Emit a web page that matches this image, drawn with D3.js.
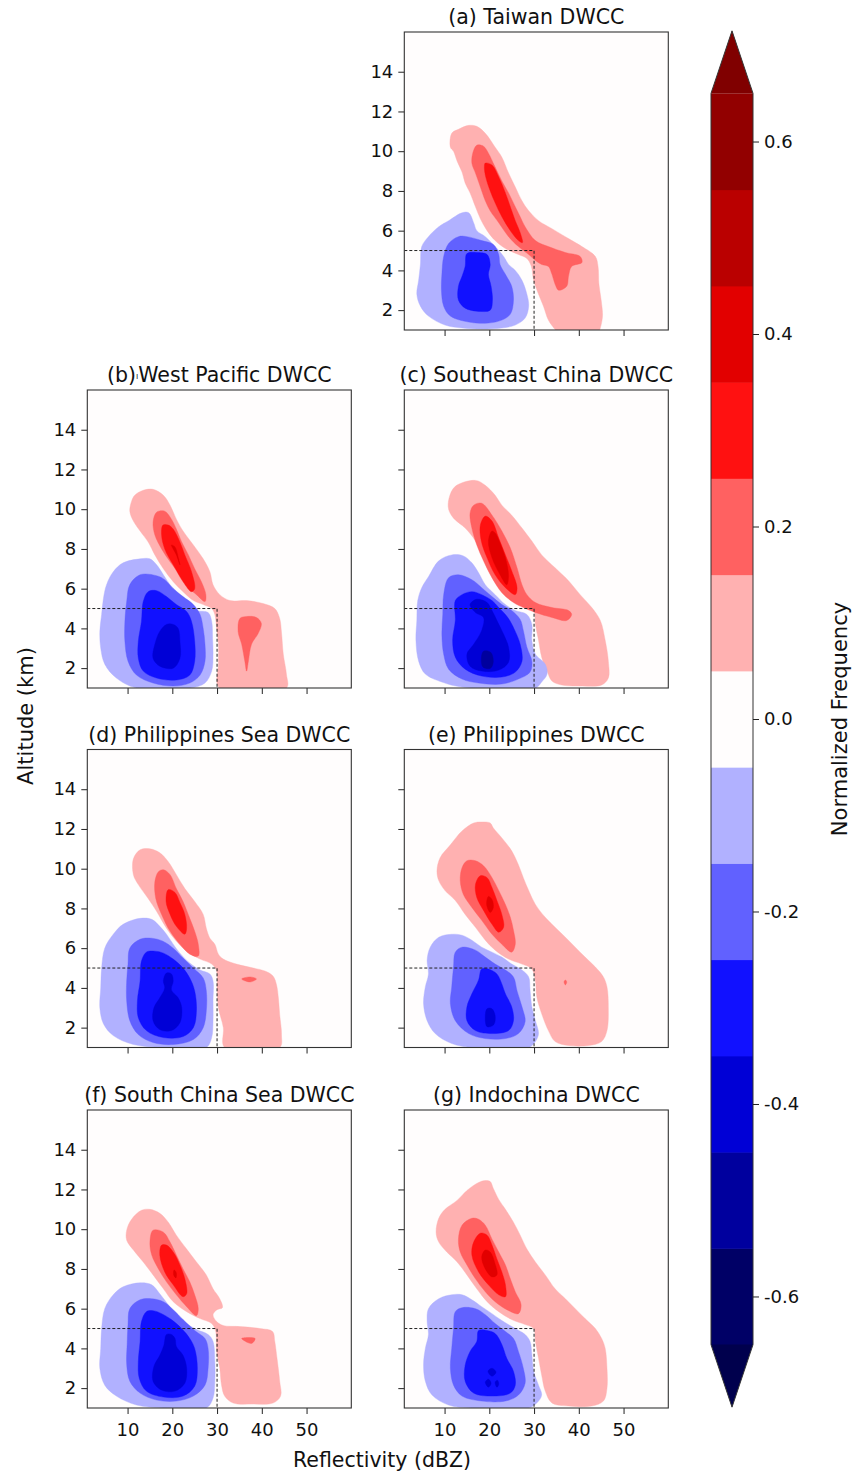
<!DOCTYPE html>
<html>
<head>
<meta charset="utf-8">
<script src="https://cdn.jsdelivr.net/npm/d3@7"></script>
<style>
  html, body { margin: 0; padding: 0; background: #ffffff; }
  svg { display: block; font-family: "DejaVu Sans", sans-serif; }
</style>
</head>
<body>
<svg id="fig" width="858" height="1472"></svg>
<script>
// Contour band boundaries of the normalized-frequency difference field
const levels = [-0.65, -0.55, -0.45, -0.35, -0.25, -0.15, -0.05, 0.05, 0.15, 0.25, 0.35, 0.45, 0.55, 0.65];
const colorbarTicks = [-0.6, -0.4, -0.2, 0.0, 0.2, 0.4, 0.6];
const xTicks = [10, 20, 30, 40, 50];
const yTicks = [2, 4, 6, 8, 10, 12, 14];
const xDomain = [1, 60];   // reflectivity (dBZ)
const yDomain = [1, 16];   // altitude (km)
const boxCorner = [30, 5]; // dashed box: reflectivity < 30 dBZ, altitude < 5 km

const panelTitles = [
  "(a) Taiwan DWCC",
  "(b)\u0131West Pacific DWCC",
  "(c) Southeast China DWCC",
  "(d) Philippines Sea DWCC",
  "(e) Philippines DWCC",
  "(f) South China Sea DWCC",
  "(g) Indochina DWCC"
];

// Each band: [band value, closed outline as [dBZ, km] pairs]
const taiwanBands = [
  [0.1, [[17.2,11.25],[19.1,10.9],[21.3,10.2],[22.8,9.7],[24.3,8.9],[25.8,8.2],[27.3,7.5],[28.8,7.0],[31.0,6.5],[34.0,6.1],[37.7,5.6],[40.7,5.2],[43.7,4.7],[44.3,4.2],[44.5,3.3],[45.0,2.5],[45.3,1.7],[44.8,1.1],[44.6,1.0],[34.8,1.0],[34.6,1.05],[33.2,1.5],[32.1,2.2],[31.0,2.8],[29.9,3.5],[29.4,4.2],[28.4,4.6],[26.5,4.8],[23.6,5.1],[21.3,5.5],[19.5,6.0],[18.0,6.6],[16.9,7.2],[15.7,7.9],[14.6,8.4],[13.9,8.95],[12.8,9.5],[12.0,10.0],[11.3,10.2],[11.6,10.9],[13.1,11.1],[15.4,11.3]]],
  [0.2, [[17.2,10.3],[18.7,10.25],[19.8,9.9],[21.3,9.2],[22.8,8.5],[24.3,7.9],[25.8,7.2],[26.9,6.7],[28.0,6.2],[30.3,5.5],[33.2,5.2],[37.0,4.9],[40.3,4.7],[40.7,4.4],[38.4,4.2],[37.7,3.7],[37.3,3.2],[35.5,3.0],[34.7,3.3],[34.0,3.8],[33.2,4.2],[31.7,4.3],[30.3,4.5],[28.8,4.8],[26.5,5.2],[24.3,5.7],[22.1,6.4],[20.2,7.0],[19.1,7.5],[18.0,8.2],[16.9,8.9],[16.1,9.4],[16.3,9.9]]],
  [0.3, [[19.1,9.4],[20.6,9.3],[22.1,8.7],[23.6,7.9],[24.7,7.2],[25.8,6.5],[26.9,5.9],[27.4,5.4],[26.5,5.5],[24.7,6.0],[22.8,6.7],[21.3,7.4],[20.2,8.0],[19.2,8.7],[18.9,9.2]]],
  [-0.1, [[13.9,6.9],[10.9,6.5],[8.7,6.2],[6.4,5.7],[4.9,5.2],[4.6,4.3],[4.2,3.5],[3.8,2.8],[4.6,2.2],[6.4,1.7],[10.1,1.25],[13.9,1.1],[18.3,1.05],[22.8,1.1],[25.8,1.25],[28.0,1.6],[28.8,2.2],[28.4,2.8],[27.3,3.5],[25.8,4.0],[24.3,4.3],[23.2,4.7],[21.3,5.2],[19.1,5.7],[17.2,6.0],[16.5,6.4],[15.4,6.9]]],
  [-0.2, [[13.1,5.7],[10.9,5.35],[9.8,4.7],[9.4,3.8],[9.3,3.0],[9.8,2.2],[11.3,1.7],[15.4,1.4],[19.8,1.35],[22.8,1.5],[24.7,1.8],[25.4,2.5],[25.0,3.2],[23.6,3.8],[22.4,4.3],[22.1,4.8],[20.9,5.3],[18.3,5.5],[15.0,5.7]]],
  [-0.3, [[15.0,4.85],[14.6,4.2],[13.9,3.7],[13.1,3.2],[13.1,2.5],[14.6,2.1],[17.2,1.95],[20.2,2.0],[20.7,2.5],[20.4,3.2],[19.8,3.8],[20.2,4.3],[19.5,4.8],[17.2,4.9]]]
];

const westPacificBands = [
  [0.1, [[10.9,10.4],[10.5,9.9],[11.3,9.4],[12.8,8.9],[14.6,8.35],[16.1,7.7],[18.0,7.0],[20.2,6.35],[22.4,5.85],[24.7,5.4],[26.9,5.2],[28.8,5.0],[29.5,4.7],[29.9,4.0],[30.3,3.2],[30.3,2.2],[30.5,1.0],[45.5,1.0],[45.5,1.7],[44.8,2.7],[44.4,3.8],[44.0,4.5],[42.9,5.0],[40.3,5.25],[36.6,5.4],[32.9,5.4],[30.6,5.7],[29.1,6.2],[28.4,6.85],[26.9,7.5],[24.7,8.2],[22.4,8.9],[20.9,9.5],[19.5,10.2],[18.0,10.7],[15.7,11.0],[13.5,10.95],[11.6,10.7]]],
  [0.2, [[16.5,9.85],[15.7,9.35],[16.1,8.7],[17.6,8.0],[19.5,7.35],[21.7,6.7],[23.9,6.0],[25.4,5.7],[27.3,5.35],[27.5,5.7],[26.5,6.35],[25.0,7.0],[23.6,7.7],[22.1,8.35],[20.9,9.0],[19.8,9.5],[18.3,9.9]]],
  [0.2, [[35.1,4.5],[34.7,3.85],[35.5,3.2],[36.2,2.35],[36.6,1.85],[37.0,2.35],[37.7,3.2],[39.2,3.75],[39.9,4.25],[38.8,4.55],[36.6,4.6]]],
  [0.3, [[17.9,9.2],[17.6,8.7],[18.3,8.0],[20.2,7.2],[22.4,6.35],[24.3,5.85],[25.0,6.0],[24.3,6.85],[22.8,7.7],[21.7,8.35],[20.2,9.0],[19.1,9.2]]],
  [0.4, [[19.8,8.2],[20.9,7.7],[21.7,7.2],[21.3,7.6],[20.6,8.1]]],
  [-0.1, [[12.8,7.5],[9.0,7.3],[6.8,6.85],[5.3,6.2],[4.6,5.5],[4.2,4.7],[3.8,3.85],[4.0,3.0],[4.9,2.2],[7.5,1.5],[12.0,1.0],[23.9,1.0],[27.3,1.25],[28.8,1.85],[29.1,2.7],[29.0,3.5],[28.8,4.35],[28.0,4.8],[25.4,4.9],[23.2,5.3],[21.7,5.7],[19.5,6.2],[18.0,6.7],[16.5,7.2],[15.0,7.5]]],
  [-0.2, [[12.8,6.7],[10.5,6.2],[9.8,5.35],[9.4,4.35],[9.4,3.35],[10.1,2.35],[12.0,1.65],[15.7,1.25],[20.2,1.1],[23.9,1.25],[26.2,1.65],[27.3,2.35],[27.3,3.2],[26.9,4.0],[26.2,4.7],[24.7,5.2],[22.4,5.6],[20.2,6.0],[18.3,6.45],[16.5,6.65]]],
  [-0.3, [[14.6,5.85],[13.5,5.35],[13.1,4.35],[12.4,3.35],[12.4,2.5],[13.5,1.85],[16.5,1.5],[20.9,1.4],[23.9,1.65],[25.0,2.35],[25.0,3.35],[24.3,4.35],[23.2,4.85],[20.9,5.2],[18.7,5.6],[16.5,5.9]]],
  [-0.4, [[18.7,4.2],[17.2,3.85],[16.1,3.2],[15.7,2.5],[17.2,2.1],[20.2,2.0],[21.7,2.5],[21.7,3.35],[21.3,4.0],[20.2,4.2]]]
];

const southeastChinaBands = [
  [0.1, [[12.4,11.15],[11.0,10.55],[10.9,10.0],[12.0,9.55],[14.6,9.05],[16.9,8.4],[18.3,7.7],[19.8,6.9],[22.1,6.05],[25.0,5.4],[28.0,5.05],[29.9,4.9],[30.3,4.2],[31.0,3.4],[31.7,2.55],[32.9,1.85],[34.0,1.35],[36.2,1.15],[40.7,1.1],[45.1,1.15],[46.6,1.5],[46.6,2.35],[45.9,3.4],[44.8,4.4],[42.9,5.05],[40.3,5.7],[37.7,6.4],[34.7,7.05],[31.7,7.7],[29.5,8.4],[27.3,9.05],[25.0,9.7],[22.8,10.2],[21.3,10.7],[19.1,11.2],[16.9,11.45]]],
  [0.2, [[18.3,10.3],[20.6,9.7],[22.8,8.9],[24.7,8.05],[26.2,7.05],[27.3,6.2],[28.4,5.7],[30.3,5.3],[34.0,5.05],[37.7,4.9],[38.4,4.7],[37.3,4.4],[34.0,4.55],[30.3,4.8],[27.6,5.05],[25.4,5.3],[22.8,5.8],[20.6,6.55],[18.7,7.4],[17.2,8.2],[16.1,9.05],[15.7,9.8],[16.5,10.2]]],
  [0.3, [[19.1,9.65],[18.0,9.2],[18.2,8.4],[19.5,7.55],[21.3,6.7],[23.6,6.05],[25.8,5.7],[26.2,6.05],[25.0,6.9],[23.6,7.7],[22.1,8.55],[20.6,9.4]]],
  [0.4, [[20.6,8.9],[19.8,8.4],[20.6,7.55],[22.4,6.7],[23.9,6.2],[24.3,6.65],[23.6,7.55],[22.4,8.3],[21.3,8.8]]],
  [-0.1, [[11.6,7.7],[8.7,7.4],[6.4,6.6],[4.9,6.05],[4.0,5.4],[3.8,4.4],[3.6,3.4],[4.2,2.35],[5.7,1.7],[9.4,1.3],[13.9,1.05],[30.3,1.0],[31.7,1.3],[32.9,1.7],[32.5,2.2],[30.3,2.7],[29.5,3.4],[29.5,4.2],[28.4,4.7],[25.8,4.9],[23.6,5.2],[21.3,5.7],[19.1,6.2],[17.6,6.8],[16.1,7.3],[14.2,7.65]]],
  [-0.2, [[13.1,6.7],[10.9,6.55],[9.8,5.7],[9.6,4.7],[9.4,3.7],[9.8,2.7],[10.9,1.95],[13.9,1.45],[17.6,1.25],[22.8,1.2],[26.5,1.45],[29.1,1.8],[29.5,2.35],[28.4,3.05],[27.6,3.9],[26.9,4.45],[25.0,4.9],[22.8,5.2],[20.6,5.6],[18.3,6.05],[16.1,6.45]]],
  [-0.3, [[13.9,5.7],[12.4,5.4],[12.4,4.4],[11.8,3.4],[12.4,2.55],[14.6,1.95],[18.3,1.6],[22.8,1.55],[25.8,1.8],[27.3,2.35],[26.9,3.2],[25.8,3.85],[24.7,4.35],[23.6,4.7],[22.1,5.05],[20.6,5.4],[18.3,5.7],[16.1,5.85]]],
  [-0.4, [[16.9,5.45],[15.7,5.2],[16.9,4.8],[18.7,4.55],[18.3,3.9],[16.5,3.2],[15.0,2.7],[15.7,2.1],[18.3,1.85],[22.1,1.9],[24.3,2.3],[24.3,3.05],[23.2,3.7],[21.7,4.4],[20.6,4.9],[19.5,5.3],[18.0,5.45]]],
  [-0.5, [[18.7,2.85],[18.2,2.45],[18.6,2.05],[20.3,2.0],[20.9,2.35],[20.3,2.8]]]
];

const philippinesSeaBands = [
  [0.1, [[12.8,10.95],[11.3,10.5],[11.3,9.7],[12.4,9.2],[14.6,8.5],[16.5,7.85],[18.7,7.0],[20.9,6.35],[23.2,5.85],[26.2,5.45],[28.8,5.2],[29.9,4.85],[30.0,4.0],[30.3,3.0],[31.4,2.0],[31.7,1.0],[44.0,1.0],[44.4,1.65],[44.0,2.65],[43.7,3.5],[43.3,4.15],[42.5,4.6],[40.7,4.85],[38.1,5.0],[34.3,5.2],[31.4,5.45],[30.3,5.7],[29.5,6.2],[28.4,6.5],[27.6,7.0],[26.9,7.7],[25.0,8.35],[22.8,9.0],[20.9,9.7],[19.1,10.35],[17.2,10.8],[15.0,11.0]]],
  [0.2, [[16.9,9.85],[16.1,9.35],[16.3,8.5],[17.6,7.7],[19.5,6.85],[21.7,6.2],[23.9,5.7],[25.8,5.6],[25.8,6.2],[25.0,6.85],[23.9,7.5],[22.4,8.35],[20.9,9.0],[19.5,9.7],[18.0,9.95]]],
  [0.2, [[35.5,4.45],[37.4,4.55],[38.8,4.45],[37.4,4.3]]],
  [0.3, [[19.1,8.95],[18.6,8.35],[19.5,7.7],[20.9,7.1],[22.8,6.7],[23.2,7.0],[22.8,7.7],[21.7,8.3],[20.6,8.8]]],
  [-0.1, [[12.8,7.5],[9.0,7.2],[6.8,6.7],[4.9,6.0],[4.2,5.0],[4.0,4.0],[3.8,3.0],[4.6,2.2],[6.8,1.6],[11.3,1.15],[18.0,1.0],[27.6,1.0],[28.8,1.5],[29.1,2.35],[29.1,3.35],[29.1,4.35],[28.4,4.7],[26.2,4.9],[23.9,5.25],[21.7,5.75],[20.2,6.2],[18.7,6.7],[17.2,7.1],[15.4,7.45]]],
  [-0.2, [[12.8,6.45],[10.5,6.0],[10.1,5.2],[9.8,4.35],[9.8,3.35],[10.5,2.35],[12.4,1.65],[15.7,1.25],[20.2,1.15],[24.7,1.4],[26.9,2.0],[27.6,2.85],[27.6,3.85],[26.9,4.5],[24.7,5.0],[22.4,5.5],[20.2,6.0],[17.9,6.35],[15.4,6.5]]],
  [-0.3, [[14.2,5.8],[13.1,5.35],[12.8,4.35],[12.2,3.35],[12.4,2.5],[14.2,1.85],[18.0,1.5],[22.4,1.55],[24.7,2.0],[25.4,2.85],[25.0,3.85],[23.9,4.5],[22.4,5.0],[20.2,5.45],[18.0,5.75],[16.1,5.85]]],
  [-0.4, [[18.7,4.75],[18.0,4.35],[18.3,4.0],[17.2,3.5],[15.9,3.0],[15.7,2.35],[17.2,1.9],[19.8,1.85],[21.7,2.25],[22.1,3.0],[21.3,3.5],[19.8,3.9],[20.2,4.35],[19.8,4.7]]]
];

const philippinesBands = [
  [0.1, [[18.3,12.35],[16.5,12.3],[13.9,11.9],[11.3,11.2],[9.0,10.55],[8.3,9.9],[8.7,9.4],[10.1,8.9],[12.4,8.4],[14.6,7.7],[16.9,7.05],[19.1,6.4],[21.3,5.9],[24.3,5.45],[27.3,5.2],[29.5,4.95],[30.3,4.35],[30.6,3.55],[31.7,2.7],[33.2,1.85],[34.7,1.3],[37.7,1.1],[42.2,1.1],[45.1,1.3],[46.3,1.85],[46.6,3.05],[46.3,4.05],[45.5,4.55],[43.7,5.05],[41.4,5.55],[39.2,6.05],[37.0,6.55],[34.7,7.05],[32.5,7.55],[30.3,8.2],[28.8,8.9],[27.6,9.55],[26.5,10.2],[25.0,10.9],[22.8,11.55],[20.9,12.05],[20.2,12.3]]],
  [0.2, [[15.0,10.4],[13.9,10.05],[13.5,9.4],[14.2,8.7],[16.1,8.05],[18.3,7.4],[20.6,6.7],[22.8,6.2],[25.0,5.8],[25.8,6.2],[25.4,6.9],[24.7,7.55],[23.6,8.2],[22.1,8.9],[20.6,9.55],[18.7,10.15],[16.9,10.4]]],
  [0.2, [[36.7,4.3],[37.0,4.15],[37.3,4.3],[37.0,4.4]]],
  [0.3, [[18.0,9.65],[16.9,9.2],[17.2,8.55],[18.7,7.9],[20.6,7.2],[22.1,6.8],[23.2,7.05],[22.8,7.7],[21.7,8.4],[20.6,9.05],[19.5,9.55]]],
  [0.4, [[19.8,8.6],[19.4,8.2],[20.2,7.8],[20.9,8.05],[20.6,8.45]]],
  [-0.1, [[11.6,6.7],[8.7,6.55],[6.8,6.05],[6.1,5.4],[6.4,4.7],[5.7,4.05],[5.3,3.2],[6.1,2.35],[7.9,1.7],[11.6,1.2],[16.1,1.0],[28.8,1.0],[30.3,1.3],[31.0,1.7],[30.3,2.35],[29.5,3.05],[29.1,3.9],[28.8,4.55],[27.3,4.9],[25.0,5.2],[22.8,5.55],[20.6,5.8],[18.3,6.05],[16.1,6.4],[13.9,6.65]]],
  [-0.2, [[13.9,6.05],[12.4,5.8],[12.0,5.05],[11.6,4.05],[11.3,3.2],[12.4,2.35],[15.4,1.7],[19.1,1.45],[23.6,1.45],[26.5,1.7],[28.0,2.3],[27.3,3.05],[26.2,3.85],[25.4,4.55],[23.6,4.9],[21.3,5.2],[19.1,5.55],[16.9,5.9]]],
  [-0.3, [[18.3,4.95],[17.6,4.4],[16.1,3.7],[15.0,3.05],[15.0,2.35],[16.9,1.85],[20.6,1.7],[24.3,1.85],[25.4,2.35],[25.0,3.05],[23.6,3.7],[22.8,4.2],[21.7,4.7],[19.8,4.95]]],
  [-0.4, [[19.5,2.95],[19.1,2.55],[19.5,2.05],[21.0,2.15],[21.3,2.6],[20.6,2.95]]]
];

const southChinaSeaBands = [
  [0.1, [[13.1,10.95],[10.9,10.5],[9.8,9.95],[9.8,9.45],[11.3,8.95],[13.5,8.35],[15.7,7.7],[18.0,7.0],[20.2,6.35],[23.2,5.85],[26.2,5.5],[28.8,5.25],[29.7,4.85],[29.9,3.85],[30.6,3.0],[31.0,2.15],[31.7,1.6],[33.6,1.25],[38.1,1.2],[42.5,1.25],[44.2,1.6],[44.0,2.35],[43.4,3.5],[42.9,4.35],[42.4,4.85],[39.6,5.0],[35.1,5.1],[31.4,5.15],[29.9,5.35],[29.1,5.7],[30.0,5.95],[31.2,6.05],[30.6,6.5],[29.1,7.0],[27.6,7.7],[25.4,8.35],[23.2,9.0],[20.9,9.7],[19.1,10.35],[17.2,10.8],[15.0,11.0]]],
  [0.2, [[15.7,9.95],[15.0,9.35],[15.4,8.7],[16.9,8.0],[18.7,7.35],[20.9,6.7],[23.2,6.1],[25.4,5.65],[25.8,6.0],[25.0,6.7],[23.9,7.35],[22.4,8.0],[20.9,8.7],[19.5,9.35],[18.0,9.85]]],
  [0.2, [[35.5,4.5],[38.5,4.5],[37.7,4.25]]],
  [0.3, [[17.6,9.2],[17.2,8.7],[18.3,7.85],[20.2,7.2],[22.4,6.6],[23.2,6.75],[22.8,7.5],[21.7,8.2],[20.2,8.85],[18.7,9.2]]],
  [0.4, [[20.4,7.95],[20.3,7.7],[20.8,7.55],[20.9,7.8]]],
  [-0.1, [[12.8,7.3],[9.0,7.1],[6.8,6.7],[4.9,6.0],[4.2,5.0],[4.0,4.0],[3.8,3.0],[4.9,2.15],[7.5,1.6],[12.0,1.15],[18.0,1.0],[27.6,1.0],[29.1,1.5],[29.5,2.35],[29.5,3.35],[29.1,4.35],[28.0,4.7],[25.4,4.95],[23.2,5.25],[20.9,5.7],[19.1,6.2],[17.2,6.75],[15.4,7.2]]],
  [-0.2, [[12.8,6.45],[10.5,6.0],[10.1,5.2],[9.9,4.2],[9.8,3.2],[10.5,2.35],[12.8,1.75],[16.5,1.4],[20.9,1.35],[24.7,1.6],[27.3,2.15],[28.0,3.0],[28.0,4.0],[27.3,4.5],[25.0,4.9],[22.4,5.45],[20.2,5.95],[18.0,6.35],[15.4,6.5]]],
  [-0.3, [[14.2,5.85],[13.1,5.35],[12.8,4.35],[12.4,3.35],[12.6,2.5],[14.2,1.85],[18.0,1.55],[22.4,1.6],[25.0,2.1],[25.6,3.0],[25.0,4.0],[23.9,4.5],[22.1,5.0],[19.8,5.45],[17.6,5.75],[15.7,5.9]]],
  [-0.4, [[18.7,4.7],[18.1,4.15],[17.2,3.65],[15.9,3.1],[15.7,2.35],[17.6,1.9],[20.6,1.85],[22.8,2.25],[23.2,3.0],[22.4,3.65],[20.9,4.1],[20.6,4.5],[19.8,4.7]]]
];

const indochinaBands = [
  [0.1, [[19.1,12.45],[17.6,12.35],[15.0,11.95],[12.8,11.45],[10.1,11.0],[8.7,10.55],[8.1,9.85],[8.7,9.35],[10.5,8.85],[12.8,8.35],[15.0,7.7],[17.2,7.0],[19.5,6.35],[22.1,5.85],[25.0,5.45],[28.0,5.2],[29.9,5.0],[30.3,4.35],[31.0,3.5],[31.7,2.65],[32.5,1.85],[34.0,1.25],[37.7,1.1],[42.9,1.1],[45.5,1.35],[46.3,2.0],[46.3,3.0],[45.9,4.0],[45.1,4.5],[43.7,5.0],[41.4,5.5],[39.2,6.0],[37.0,6.5],[34.7,7.0],[32.5,7.7],[30.3,8.35],[28.4,9.0],[26.9,9.7],[25.4,10.35],[23.6,11.0],[22.1,11.5],[20.9,12.05],[20.2,12.4]]],
  [0.2, [[16.1,10.55],[13.9,10.2],[13.1,9.5],[13.5,8.85],[15.0,8.2],[16.9,7.5],[19.1,6.85],[21.3,6.35],[23.9,5.95],[26.5,5.75],[27.1,6.2],[25.8,6.85],[24.7,7.5],[23.6,8.2],[22.1,8.85],[20.6,9.5],[19.1,10.2],[17.6,10.5]]],
  [0.3, [[18.0,9.8],[16.5,9.35],[16.1,8.7],[17.6,7.85],[19.8,7.2],[22.1,6.7],[23.6,6.6],[23.6,7.2],[22.8,7.85],[21.7,8.5],[20.6,9.2],[19.5,9.7]]],
  [0.4, [[19.1,8.95],[18.3,8.6],[19.1,8.0],[20.6,7.6],[21.7,7.7],[21.3,8.25],[20.2,8.85]]],
  [-0.1, [[11.6,6.7],[8.7,6.5],[6.4,6.0],[6.1,5.35],[6.4,4.7],[5.7,4.0],[5.3,3.2],[5.7,2.35],[7.2,1.65],[10.9,1.15],[16.1,1.0],[28.8,1.0],[30.6,1.25],[31.7,1.65],[31.0,2.15],[29.9,2.85],[29.5,3.7],[29.1,4.35],[28.0,4.7],[25.8,5.0],[22.8,5.4],[20.6,5.75],[18.3,6.1],[16.1,6.45],[13.9,6.7]]],
  [-0.2, [[13.9,6.05],[12.4,5.85],[12.0,5.0],[11.6,4.0],[11.3,3.0],[12.0,2.15],[13.9,1.6],[18.3,1.35],[23.6,1.35],[26.5,1.65],[28.0,2.25],[27.6,3.0],[26.5,3.85],[25.4,4.5],[23.6,4.85],[21.3,5.25],[19.1,5.7],[16.9,6.0]]],
  [-0.3, [[17.6,4.9],[17.2,4.35],[15.7,3.85],[14.6,3.15],[14.6,2.35],[16.5,1.75],[20.6,1.6],[24.7,1.75],[25.8,2.15],[25.4,2.85],[23.9,3.5],[22.8,4.2],[21.3,4.75],[19.5,4.9]]],
  [-0.4, [[19.7,2.85],[20.6,3.0],[21.5,2.8],[20.6,2.6]]],
  [-0.4, [[19.1,2.3],[19.8,2.45],[20.4,2.25],[19.8,2.05]]],
  [-0.4, [[21.3,2.3],[21.8,2.4],[22.1,2.2],[21.7,2.05]]]
];

const panelBands = [taiwanBands, westPacificBands, southeastChinaBands, philippinesSeaBands,
                    philippinesBands, southChinaSeaBands, indochinaBands];

// ---- layout ----
const W = 264, H = 298;
const colLeft = [87.3, 404.3];
const rowTop = [32, 390, 749.5, 1110];
const panelPos = [
  { x: colLeft[1], y: rowTop[0], yLabels: true,  xLabels: false },
  { x: colLeft[0], y: rowTop[1], yLabels: true,  xLabels: false },
  { x: colLeft[1], y: rowTop[1], yLabels: false, xLabels: false },
  { x: colLeft[0], y: rowTop[2], yLabels: true,  xLabels: false },
  { x: colLeft[1], y: rowTop[2], yLabels: false, xLabels: false },
  { x: colLeft[0], y: rowTop[3], yLabels: true,  xLabels: true },
  { x: colLeft[1], y: rowTop[3], yLabels: false, xLabels: true }
];

// matplotlib "seismic" colormap, sampled like a 256-entry lookup table
const seismic = d3.scaleLinear()
  .domain([0, 0.25, 0.5, 0.75, 1])
  .range(["#00004d", "#0000ff", "#ffffff", "#ff0000", "#800000"])
  .interpolate(d3.interpolateRgb);
const vmin = levels[0], vmax = levels[levels.length - 1];
function bandColor(v) {
  if (v > vmax) return seismic(1);
  if (v < vmin) return seismic(0);
  const t = (v - vmin) / (vmax - vmin);
  const idx = Math.min(255, Math.floor(t * 256));
  return seismic(idx / 255);
}

const svg = d3.select("#fig");
const x = d3.scaleLinear().domain(xDomain).range([0, W]);
const y = d3.scaleLinear().domain(yDomain).range([H, 0]);
const ring = d3.line()
  .x(d => x(d[0])).y(d => y(d[1]))
  .curve(d3.curveCatmullRomClosed.alpha(0.5));

panelPos.forEach((p, i) => {
  const g = svg.append("g").attr("transform", `translate(${p.x},${p.y})`);
  const clipId = "clip" + i;
  g.append("clipPath").attr("id", clipId)
    .append("rect").attr("width", W).attr("height", H);

  const plot = g.append("g").attr("clip-path", `url(#${clipId})`);
  plot.append("rect").attr("width", W).attr("height", H).attr("fill", bandColor(0));

  // draw outer bands first so stronger bands sit on top
  const bands = panelBands[i].slice().sort((a, b) => Math.abs(a[0]) - Math.abs(b[0]));
  plot.selectAll("path.band").data(bands).join("path")
    .attr("class", "band")
    .attr("d", d => ring(d[1]))
    .attr("fill", d => bandColor(d[0]))
    .attr("stroke", d => bandColor(d[0]))
    .attr("stroke-width", 0.4);

  // dashed box marking the low, weak-echo corner
  plot.append("path")
    .attr("d", `M${x(xDomain[0])},${y(boxCorner[1])}H${x(boxCorner[0])}V${y(yDomain[0])}`)
    .attr("fill", "none").attr("stroke", "#222").attr("stroke-width", 1)
    .attr("stroke-dasharray", "3,2");

  // axes
  const xAxis = d3.axisBottom(x).tickValues(xTicks).tickSize(6).tickPadding(5)
    .tickFormat(p.xLabels ? d3.format("d") : () => "");
  const yAxis = d3.axisLeft(y).tickValues(yTicks).tickSize(6).tickPadding(5)
    .tickFormat(p.yLabels ? d3.format("d") : () => "");
  const gx = g.append("g").attr("transform", `translate(0,${H})`).call(xAxis);
  const gy = g.append("g").call(yAxis);
  [gx, gy].forEach(a => {
    a.select(".domain").remove();
    a.selectAll("line").attr("stroke", "#222").attr("stroke-width", 1);
    a.selectAll("text").attr("fill", "#111").style("font-size", "18px")
      .style("font-family", "'DejaVu Sans', sans-serif");
  });
  gx.selectAll("text").attr("dy", "0.95em");
  g.append("rect").attr("width", W).attr("height", H)
    .attr("fill", "none").attr("stroke", "#333").attr("stroke-width", 1.1);

  // panel title
  const t = g.append("text").attr("x", W / 2).attr("y", -8)
    .attr("text-anchor", "middle").attr("fill", "#111")
    .style("font-size", "20.5px");
  const title = panelTitles[i];
  if (title.includes("\u0131")) {
    const parts = title.split("\u0131");
    t.append("tspan").text(parts[0]);
    t.append("tspan").style("font-size", "8px").attr("dy", -3).text("\u0131");
    t.append("tspan").attr("dy", 3).text(parts[1]);
  } else {
    t.text(title);
  }
});

// shared axis labels
svg.append("text")
  .attr("transform", "translate(33,716) rotate(-90)")
  .attr("text-anchor", "middle").attr("fill", "#111")
  .style("font-size", "21px").text("Altitude (km)");
svg.append("text")
  .attr("x", 382).attr("y", 1467)
  .attr("text-anchor", "middle").attr("fill", "#111")
  .style("font-size", "20.5px").text("Reflectivity (dBZ)");

// ---- colorbar ----
const cbX = 711, cbW = 42;
const cbY = d3.scaleLinear().domain([vmin, vmax]).range([1344.6, 93.4]);
const ext = (cbY(vmin) - cbY(vmax)) * 0.05;
const cb = svg.append("g");
const bandPairs = d3.pairs(levels);
cb.selectAll("rect.cbband").data(bandPairs).join("rect")
  .attr("class", "cbband")
  .attr("x", cbX).attr("width", cbW)
  .attr("y", d => cbY(d[1]))
  .attr("height", d => cbY(d[0]) - cbY(d[1]) + 0.5)
  .attr("fill", d => bandColor((d[0] + d[1]) / 2));
cb.append("path")
  .attr("d", `M${cbX},${cbY(vmax)}L${cbX + cbW / 2},${cbY(vmax) - ext}L${cbX + cbW},${cbY(vmax)}Z`)
  .attr("fill", bandColor(vmax + 1));
cb.append("path")
  .attr("d", `M${cbX},${cbY(vmin)}L${cbX + cbW / 2},${cbY(vmin) + ext}L${cbX + cbW},${cbY(vmin)}Z`)
  .attr("fill", bandColor(vmin - 1));
cb.append("path")
  .attr("d", `M${cbX},${cbY(vmax)}L${cbX + cbW / 2},${cbY(vmax) - ext}L${cbX + cbW},${cbY(vmax)}` +
             `L${cbX + cbW},${cbY(vmin)}L${cbX + cbW / 2},${cbY(vmin) + ext}L${cbX},${cbY(vmin)}Z`)
  .attr("fill", "none").attr("stroke", "#333").attr("stroke-width", 1);
const cbAxis = d3.axisRight(cbY).tickValues(colorbarTicks).tickSize(6).tickPadding(5)
  .tickFormat(d3.format(".1f"));
const gcb = cb.append("g").attr("transform", `translate(${cbX + cbW},0)`).call(cbAxis);
gcb.select(".domain").remove();
gcb.selectAll("line").attr("stroke", "#222");
gcb.selectAll("text").attr("fill", "#111").style("font-size", "18px")
  .style("font-family", "'DejaVu Sans', sans-serif")
  .text(d => d3.format(".1f")(d).replace("\u2212", "-"));
svg.append("text")
  .attr("transform", "translate(847,719) rotate(-90)")
  .attr("text-anchor", "middle").attr("fill", "#111")
  .style("font-size", "21px").text("Normalized Frequency");
</script>
</body>
</html>
